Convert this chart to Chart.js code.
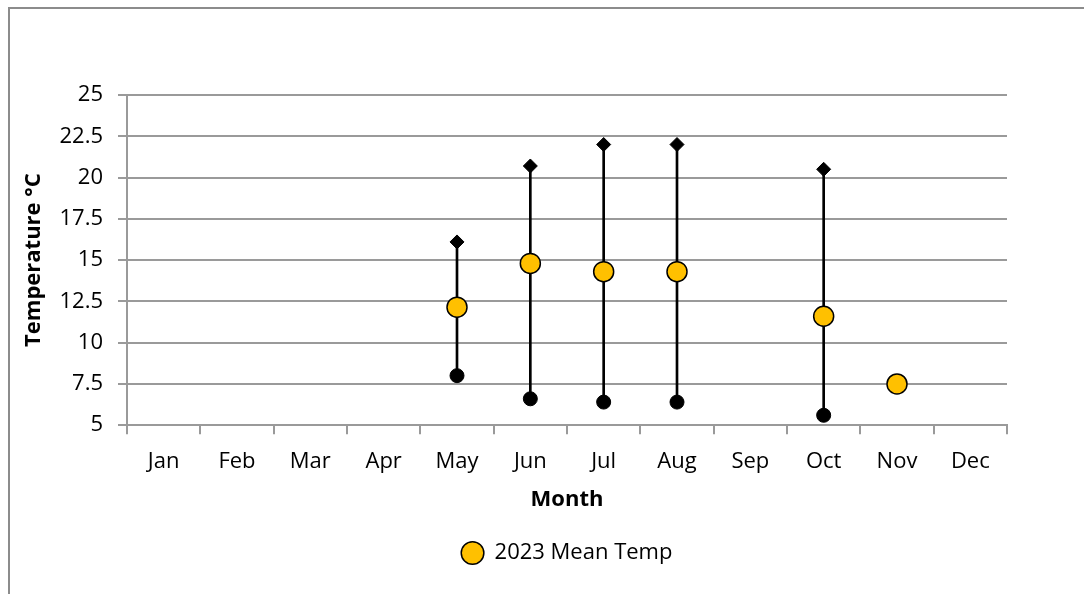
<!DOCTYPE html>
<html>
<head>
<meta charset="utf-8">
<script src="https://cdn.jsdelivr.net/npm/chart.js@4"></script>
<style>
  html, body { margin: 0; padding: 0; background: #fff; }
  #wrap { width: 1084px; height: 594px; position: relative; }
</style>
</head>
<body>
<div id="wrap"><canvas id="tempChart" width="1084" height="594"></canvas></div>
<script>
// Monthly temperatures (°C)
const months = ["Jan", "Feb", "Mar", "Apr", "May", "Jun", "Jul", "Aug", "Sep", "Oct", "Nov", "Dec"];
const meanTemp = [null, null, null, null, 12.15, 14.8, 14.3, 14.3, null, 11.6, 7.5, null];
const maxTemp = [null, null, null, null, 16.1, 20.7, 22.0, 22.0, null, 20.5, null, null];
const minTemp = [null, null, null, null, 8.0, 6.6, 6.4, 6.4, null, 5.6, null, null];
const yTicks = [5, 7.5, 10, 12.5, 15, 17.5, 20, 22.5, 25];

const FONT = "'Open Sans', 'DejaVu Sans', sans-serif";
const GRID = "#9a9a9a";

// min-max range as floating bars
const ranges = months.map((m, i) =>
  minTemp[i] != null && maxTemp[i] != null ? [minTemp[i], maxTemp[i]] : null
);

// outer frame of the chart object (cropped at right & bottom)
const framePlugin = {
  id: "frame",
  beforeDraw(chart) {
    const ctx = chart.ctx;
    ctx.save();
    ctx.fillStyle = "#fff";
    ctx.fillRect(0, 0, chart.width, chart.height);
    ctx.strokeStyle = "#8c8c8c";
    ctx.lineWidth = 2;
    ctx.strokeRect(9, 8, 3000, 3000);
    ctx.restore();
  },
};

const ctx = document.getElementById("tempChart").getContext("2d");
const tempChart = new Chart(ctx, {
  type: "bar",
  data: {
    labels: months,
    datasets: [
      {
        label: "2023 Mean Temp",
        type: "line",
        data: meanTemp,
        showLine: false,
        pointStyle: "circle",
        pointRadius: 10,
        pointHoverRadius: 10,
        pointBackgroundColor: "#FFC000",
        pointBorderColor: "#000",
        pointBorderWidth: 1.5,
        backgroundColor: "#FFC000",
        borderColor: "#000",
        order: 1,
      },
      {
        label: "Max",
        type: "line",
        data: maxTemp,
        showLine: false,
        pointStyle: "rectRot",
        pointRadius: 7,
        pointHoverRadius: 7,
        pointBackgroundColor: "#000",
        pointBorderColor: "#000",
        pointBorderWidth: 1,
        order: 2,
      },
      {
        label: "Min",
        type: "line",
        data: minTemp,
        showLine: false,
        pointStyle: "circle",
        pointRadius: 7,
        pointHoverRadius: 7,
        pointBackgroundColor: "#000",
        pointBorderColor: "#000",
        pointBorderWidth: 1,
        order: 2,
      },
      {
        label: "Range",
        data: ranges,
        backgroundColor: "#000",
        barThickness: 2,
        order: 3,
      },
    ],
  },
  options: {
    responsive: false,
    animation: false,
    layout: {
      padding: { left: 21, right: 77, top: 95, bottom: 20 },
    },
    plugins: {
      legend: {
        position: "bottom",
        fullSize: false,
        labels: {
          filter: (item) => item.text === "2023 Mean Temp",
          usePointStyle: true,
          pointStyle: "circle",
          boxHeight: 16,
          color: "#000",
          font: { family: FONT, size: 22 },
          padding: 10,
        },
      },
      tooltip: { enabled: false },
    },
    scales: {
      x: {
        offset: true,
        grid: {
          offset: true,
          drawOnChartArea: false,
          drawTicks: true,
          tickLength: 9,
          color: GRID,
          lineWidth: 2,
        },
        border: { display: true, color: GRID, width: 2 },
        ticks: {
          color: "#000",
          font: { family: FONT, size: 22 },
          padding: 14,
        },
        title: {
          display: true,
          text: "Month",
          color: "#000",
          font: { family: FONT, size: 22, weight: "bold" },
          padding: { top: -2, bottom: 19 },
        },
      },
      y: {
        min: 5,
        max: 25,
        afterFit: (scale) => { scale.width = 106; },
        afterBuildTicks: (scale) => {
          scale.ticks = yTicks.map((v) => ({ value: v }));
        },
        grid: {
          color: GRID,
          lineWidth: 2,
          tickLength: 9,
        },
        border: { display: true, color: GRID, width: 2 },
        ticks: {
          color: "#000",
          font: { family: FONT, size: 22 },
          padding: 15,
        },
        title: {
          display: true,
          text: "Temperature °C",
          color: "#000",
          font: { family: FONT, size: 22, weight: "bold" },
          padding: { top: 0, bottom: 0 },
        },
      },
    },
  },
  plugins: [framePlugin],
});
</script>
</body>
</html>
